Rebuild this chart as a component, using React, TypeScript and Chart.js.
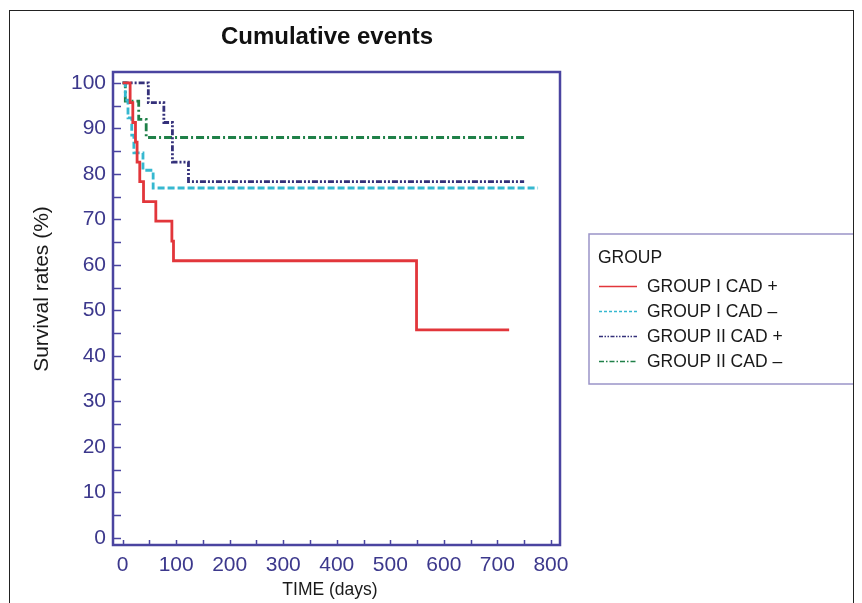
import React, { useEffect, useRef } from "react";
import { Chart, registerables } from "chart.js";

Chart.register(...registerables);

// ---------- data ----------
const chartTitle = "Cumulative events";
const xAxisTitle = "TIME (days)";
const yAxisTitle = "Survival rates (%)";
const legendTitle = "GROUP";

const xTickLabels = [0, 100, 200, 300, 400, 500, 600, 700, 800];
const yTickLabels = [0, 10, 20, 30, 40, 50, 60, 70, 80, 90, 100];
const xMinorTicks = [0, 50, 100, 150, 200, 250, 300, 350, 400, 450, 500, 550, 600, 650, 700, 750, 800];
const yMinorTicks = [0, 5, 10, 15, 20, 25, 30, 35, 40, 45, 50, 55, 60, 65, 70, 75, 80, 85, 90, 95, 100];

const seriesNames = ["GROUP I CAD +", "GROUP I CAD \u2013", "GROUP II CAD +", "GROUP II CAD \u2013"];

const g1PosTime = [0, 14, 19, 24, 27, 32, 39, 62, 92, 95, 549, 722];
const g1PosSurv = [100, 95.65, 91.3, 87.0, 82.6, 78.3, 73.9, 69.6, 65.2, 60.9, 45.7, 45.7];

const g1NegTime = [0, 5, 10, 17, 21, 38, 57, 776];
const g1NegSurv = [100, 96.2, 92.3, 88.5, 84.6, 80.8, 76.9, 76.9];

const g2PosTime = [0, 48, 77, 93, 123, 750];
const g2PosSurv = [100, 95.65, 91.3, 82.6, 78.3, 78.3];

const g2NegTime = [0, 5, 30, 44, 750];
const g2NegSurv = [100, 96, 92, 88, 88];

// ---------- styles ----------
const AXIS = "#4a44a0";
const TICK_TEXT = "#3c388c";
const seriesColors = ["#e2363b", "#36b8d0", "#34307a", "#1f8048"];
const seriesDash: number[][] = [[], [7, 3], [6, 2, 2, 2, 2, 2], [8, 3, 2, 3]];
const legendDash: number[][] = [[], [3, 2], [4, 1.5, 1.5, 1.5, 1.5, 1.5], [5, 2, 1.5, 2]];
const FONT = "'Liberation Sans', Arial, Helvetica, sans-serif";

const series = [
  { t: g1PosTime, s: g1PosSurv },
  { t: g1NegTime, s: g1NegSurv },
  { t: g2PosTime, s: g2PosSurv },
  { t: g2NegTime, s: g2NegSurv },
];

const decor = {
  id: "decor",
  afterDraw(chart: any) {
    const { ctx, chartArea: a, scales } = chart;
    ctx.save();
    // inner tick marks
    ctx.strokeStyle = AXIS;
    ctx.lineWidth = 1.5;
    ctx.beginPath();
    yMinorTicks.forEach((v) => {
      const y = Math.round(scales.y.getPixelForValue(v)) + 0.5;
      ctx.moveTo(a.left, y);
      ctx.lineTo(a.left + 8, y);
    });
    xMinorTicks.forEach((v) => {
      const x = Math.round(scales.x.getPixelForValue(v)) + 0.5;
      ctx.moveTo(x, a.bottom);
      ctx.lineTo(x, a.bottom - 5);
    });
    ctx.stroke();
    // frame
    ctx.lineWidth = 2.5;
    ctx.strokeRect(a.left, a.top, a.right - a.left, a.bottom - a.top);

    // title
    ctx.fillStyle = "#111";
    ctx.font = `bold 24px ${FONT}`;
    ctx.textAlign = "center";
    ctx.textBaseline = "middle";
    ctx.fillText(chartTitle, 317, 26);

    // axis titles
    ctx.font = `17.5px ${FONT}`;
    ctx.fillStyle = "#1a1a1a";
    ctx.fillText(xAxisTitle, 320, 579);
    ctx.save();
    ctx.translate(32, 278);
    ctx.rotate(-Math.PI / 2);
    ctx.font = `21px ${FONT}`;
    ctx.fillText(yAxisTitle, 0, 0);
    ctx.restore();

    // legend
    ctx.strokeStyle = "#9a94c8";
    ctx.lineWidth = 1.5;
    ctx.strokeRect(579, 223, 280, 150);
    ctx.fillStyle = "#1a1a1a";
    ctx.textAlign = "left";
    ctx.font = `17.5px ${FONT}`;
    ctx.fillText(legendTitle, 588, 247);
    seriesNames.forEach((name, i) => {
      const y = 275.5 + i * 25;
      ctx.strokeStyle = seriesColors[i];
      ctx.lineWidth = 1.5;
      ctx.setLineDash(legendDash[i]);
      ctx.beginPath();
      ctx.moveTo(589, y);
      ctx.lineTo(627, y);
      ctx.stroke();
      ctx.setLineDash([]);
      ctx.fillStyle = "#1a1a1a";
      ctx.fillText(name, 637, y + 1);
    });
    ctx.restore();
  },
};

export default function App() {
  const ref = useRef<HTMLCanvasElement | null>(null);
  useEffect(() => {
    if (!ref.current) return;
    const chart = new Chart(ref.current, {
      type: "line",
      data: {
        datasets: series.map((sr, i) => ({
          label: seriesNames[i],
          data: sr.t.map((t, j) => ({ x: t, y: sr.s[j] })),
          borderColor: seriesColors[i],
          backgroundColor: seriesColors[i],
          borderDash: seriesDash[i],
          borderWidth: 2.8,
          stepped: "before" as const,
          pointRadius: 0,
          fill: false,
        })),
      },
      options: {
        animation: false,
        responsive: false,
        devicePixelRatio: 1,
        layout: { padding: { left: 0, top: 61, right: 293, bottom: 0 } },
        plugins: {
          legend: { display: false },
          title: { display: false },
          tooltip: { enabled: false },
        },
        scales: {
          x: {
            type: "linear",
            min: -18,
            max: 817,
            afterFit: (s: any) => {
              s.height = 66;
            },
            afterBuildTicks: (s: any) => {
              s.ticks = xTickLabels.map((v) => ({ value: v }));
            },
            grid: { display: false, drawTicks: false },
            border: { display: false },
            ticks: {
              padding: 8,
              color: TICK_TEXT,
              font: { family: FONT, size: 21 },
              maxRotation: 0,
              autoSkip: false,
            },
          },
          y: {
            type: "linear",
            min: -1.6,
            max: 102.4,
            afterFit: (s: any) => {
              s.width = 103;
            },
            afterBuildTicks: (s: any) => {
              s.ticks = yTickLabels.map((v) => ({ value: v }));
            },
            grid: { display: false, drawTicks: false },
            border: { display: false },
            ticks: {
              padding: 7,
              color: TICK_TEXT,
              font: { family: FONT, size: 21 },
              autoSkip: false,
            },
          },
        },
      },
      plugins: [decor],
    });
    return () => chart.destroy();
  }, []);

  return (
    <div
      style={{
        marginTop: 2,
        marginLeft: 1,
        width: 843,
        height: 600,
        border: "1px solid #222",
        overflow: "hidden",
        background: "#fff",
      }}
    >
      <canvas ref={ref} width={843} height={600} style={{ display: "block" }} />
    </div>
  );
}
